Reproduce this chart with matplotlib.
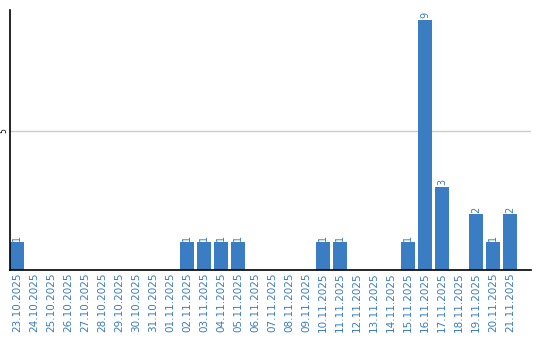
import matplotlib
matplotlib.use("Agg")
import matplotlib.pyplot as plt
import numpy as np

dates = ["23.10.2025", "24.10.2025", "25.10.2025", "26.10.2025", "27.10.2025",
         "28.10.2025", "29.10.2025", "30.10.2025", "31.10.2025", "01.11.2025",
         "02.11.2025", "03.11.2025", "04.11.2025", "05.11.2025", "06.11.2025",
         "07.11.2025", "08.11.2025", "09.11.2025", "10.11.2025", "11.11.2025",
         "12.11.2025", "13.11.2025", "14.11.2025", "15.11.2025", "16.11.2025",
         "17.11.2025", "18.11.2025", "19.11.2025", "20.11.2025", "21.11.2025"]
values = [1, 0, 0, 0, 0, 0, 0, 0, 0, 0,
          1, 1, 1, 1, 0, 0, 0, 0, 1, 1,
          0, 0, 0, 1, 9, 3, 0, 2, 1, 2]

blue = "#3b7dc2"
fig = plt.figure(figsize=(5.4, 3.4), dpi=100)
ax = fig.add_axes([10/540, 70/340, 521/540, 260/340])

x = np.arange(len(dates))
bw = 14/17
ax.bar(x, values, width=bw, align="edge", color=blue, zorder=2)
for xi, v in zip(x, values):
    if v > 0:
        ax.text(xi + bw/2, v + 0.05, str(v), rotation=90, ha="center", va="bottom",
                color=blue, fontsize=7)

ax.set_xlim(0, 521/17)
ax.set_ylim(0, 260/27.8)
ax.set_xticks(x + bw/2)
ax.set_xticklabels(dates, rotation=90, color=blue, fontsize=7.5)
ax.set_yticks([5])
ax.set_yticklabels(["5"], rotation=90, va="center", fontsize=5.5)
ax.tick_params(axis="x", length=0, pad=2)
ax.tick_params(axis="y", length=0, pad=1.5)
ax.grid(axis="y", color="#cccccc", linewidth=1, zorder=0)
for s in ["top", "right"]:
    ax.spines[s].set_visible(False)
for s in ["left", "bottom"]:
    ax.spines[s].set_color("black")
    ax.spines[s].set_linewidth(1.2)

fig.savefig("out.png", dpi=100)
